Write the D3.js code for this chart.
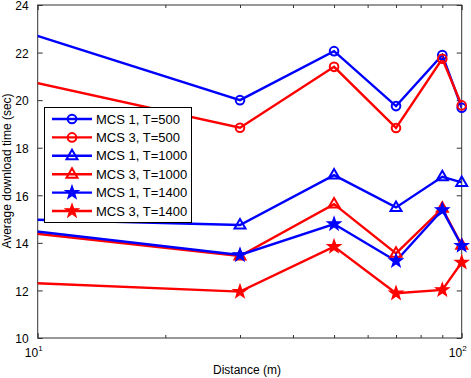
<!DOCTYPE html>
<html><head><meta charset="utf-8">
<script src="https://cdn.jsdelivr.net/npm/d3@7"></script>
<style>body{margin:0;background:#fff}svg{display:block;font-family:"Liberation Sans",Arial,sans-serif}</style>
</head><body><svg id="c" width="471" height="378"></svg>
<script>
const distances = [5, 30, 50, 70, 90, 100];
const mcs1T500  = [24.4, 20.0, 22.06, 19.75, 21.9, 19.68];
const mcs3T500  = [21.9, 18.84, 21.4, 18.83, 21.74, 19.78];
const mcs1T1000 = [15.11, 14.75, 16.85, 15.49, 16.78, 16.54];
const mcs3T1000 = [14.97, 13.45, 15.63, 13.56, 15.45, 13.9];
const mcs1T1400 = [15.09, 13.49, 14.79, 13.24, 15.38, 13.88];
const mcs3T1400 = [12.52, 11.95, 13.84, 11.88, 12.02, 13.18];
const seriesNames = ["MCS 1, T=500","MCS 3, T=500","MCS 1, T=1000","MCS 3, T=1000","MCS 1, T=1400","MCS 3, T=1400"];
const yTicks = [10,12,14,16,18,20,22,24];
const xMinor = [20,30,40,50,60,70,80,90];

const series = [
  {name:seriesNames[0], v:mcs1T500, color:"#0000ff", m:"circle"},
  {name:seriesNames[1], v:mcs3T500, color:"#ff0000", m:"circle"},
  {name:seriesNames[2], v:mcs1T1000, color:"#0000ff", m:"tri"},
  {name:seriesNames[3], v:mcs3T1000, color:"#ff0000", m:"tri"},
  {name:seriesNames[4], v:mcs1T1400, color:"#0000ff", m:"star"},
  {name:seriesNames[5], v:mcs3T1400, color:"#ff0000", m:"star"}
];

const L=37.7, R=461.7, T=5, B=338;
const x = d3.scaleLog().domain([10,100]).range([L,R]);
const y = d3.scaleLinear().domain([10,24]).range([B,T]);
const svg = d3.select("#c");

svg.append("defs").append("clipPath").attr("id","clip")
  .append("rect").attr("x",L).attr("y",T).attr("width",R-L).attr("height",B-T);

function starPath(r){
  const pts=[];
  for(let i=0;i<10;i++){
    const a=-Math.PI/2+i*Math.PI/5;
    const rr = i%2===0 ? r : r*0.4;
    pts.push([rr*Math.cos(a), rr*Math.sin(a)]);
  }
  return "M"+pts.map(p=>p[0].toFixed(2)+","+p[1].toFixed(2)).join("L")+"Z";
}
function drawMarker(g, type, color){
  if(type==="circle"){
    g.append("circle").attr("r",4.3).attr("fill","none").attr("stroke",color).attr("stroke-width",2);
  } else if(type==="tri"){
    g.append("path").attr("d","M0,-6L5.5,3.5L-5.5,3.5Z").attr("fill","none").attr("stroke",color).attr("stroke-width",2);
  } else {
    g.append("path").attr("d",starPath(7)).attr("fill",color).attr("stroke",color).attr("stroke-width",1.2).attr("stroke-linejoin","miter");
  }
}

// box
svg.append("rect").attr("x",L).attr("y",T).attr("width",R-L).attr("height",B-T)
  .attr("fill","#fff").attr("stroke","#333").attr("stroke-width",1);

// axes
const xAxisB = d3.axisBottom(x).tickValues([10,100]).tickSize(-5).tickFormat("");
svg.append("g").attr("transform",`translate(0,${B})`).call(xAxisB);
const xMinB = d3.axisBottom(x).tickValues(xMinor).tickSize(-3).tickFormat("");
svg.append("g").attr("transform",`translate(0,${B})`).call(xMinB);
const xAxisT = d3.axisTop(x).tickValues([10,100]).tickSize(-5).tickFormat("");
svg.append("g").attr("transform",`translate(0,${T})`).call(xAxisT);
const xMinT = d3.axisTop(x).tickValues(xMinor).tickSize(-3).tickFormat("");
svg.append("g").attr("transform",`translate(0,${T})`).call(xMinT);
const yAxisL = d3.axisLeft(y).tickValues(yTicks).tickSize(-5).tickPadding(9).tickFormat(d3.format("d"));
const gyl = svg.append("g").attr("transform",`translate(${L},0)`).call(yAxisL);
const yAxisR = d3.axisRight(y).tickValues(yTicks).tickSize(-5).tickFormat("");
svg.append("g").attr("transform",`translate(${R},0)`).call(yAxisR);
svg.selectAll(".domain").remove();
svg.selectAll(".tick line").attr("stroke","#333");
gyl.selectAll("text").attr("font-size",12).attr("fill","#000").attr("dy","0.4em")
  .attr("font-family","Liberation Sans, Arial, sans-serif");

// x tick labels 10^1, 10^2
[10,100].forEach((v,i)=>{
  const t = svg.append("text").attr("x",x(v)-4).attr("y",B+19)
    .attr("text-anchor","middle").attr("font-size",12).attr("fill","#000");
  t.append("tspan").text("10");
  t.append("tspan").attr("font-size",8).attr("dy",-6).text(i===0?"1":"2");
});

svg.append("text").attr("x",247).attr("y",374).attr("text-anchor","middle")
  .attr("font-size",12).text("Distance (m)");
svg.append("text").attr("transform","translate(11,171) rotate(-90)").attr("text-anchor","middle")
  .attr("font-size",12).text("Average download time (sec)");

// lines
const line = d3.line().x((d,i)=>x(distances[i])).y(d=>y(d));
const plot = svg.append("g").attr("clip-path","url(#clip)");
series.forEach(s=>{
  plot.append("path").attr("d",line(s.v)).attr("fill","none")
    .attr("stroke",s.color).attr("stroke-width",2.4).attr("stroke-linejoin","miter");
});
series.forEach(s=>{
  s.v.forEach((v,i)=>{
    if(distances[i]<10) return;
    const g = svg.append("g").attr("transform",`translate(${x(distances[i])},${y(v)})`);
    drawMarker(g, s.m, s.color);
  });
});

// legend
const lg = svg.append("g");
lg.append("rect").attr("x",44.5).attr("y",107.5).attr("width",147).attr("height",115)
  .attr("fill","#fff").attr("stroke","#000").attr("stroke-width",1);
series.forEach((s,i)=>{
  const cy = 119 + i*18.4;
  lg.append("line").attr("x1",52).attr("x2",92).attr("y1",cy).attr("y2",cy)
    .attr("stroke",s.color).attr("stroke-width",2.4);
  const g = lg.append("g").attr("transform",`translate(72,${cy})`);
  drawMarker(g, s.m, s.color);
  lg.append("text").attr("x",96).attr("y",cy+4.5).attr("font-size",13).text(s.name);
});
</script></body></html>
